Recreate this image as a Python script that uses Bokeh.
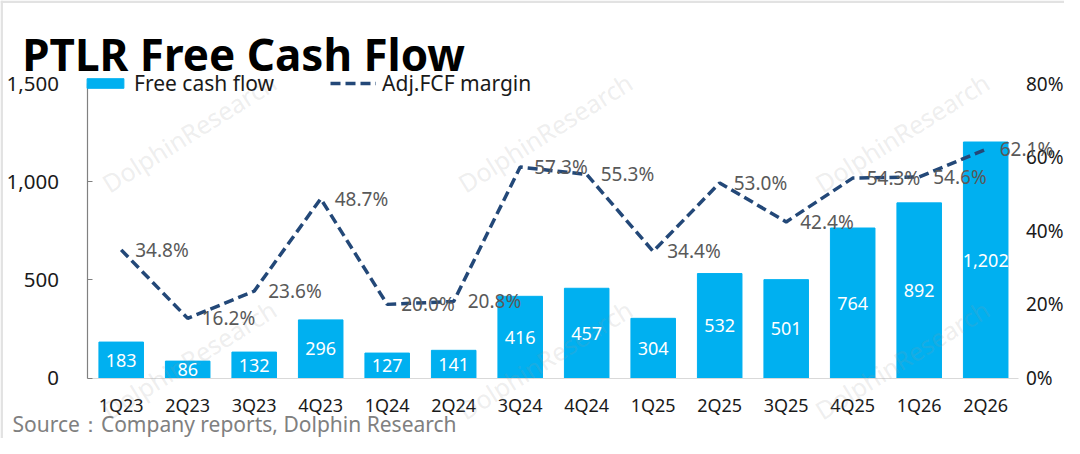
from bokeh.plotting import figure
from bokeh.models import (Range1d, LinearAxis, ColumnDataSource, LabelSet, Label, Span,
                          Legend, LegendItem, NumeralTickFormatter, FixedTicker, PrintfTickFormatter)
from bokeh.core.properties import value
from bokeh.embed import file_html
from bokeh.resources import INLINE

quarters = ["1Q23", "2Q23", "3Q23", "4Q23", "1Q24", "2Q24", "3Q24", "4Q24",
            "1Q25", "2Q25", "3Q25", "4Q25", "1Q26", "2Q26"]
fcf = [183, 86, 132, 296, 127, 141, 416, 457, 304, 532, 501, 764, 892, 1202]
margin = [34.8, 16.2, 23.6, 48.7, 20.0, 20.8, 57.3, 55.3, 34.4, 53.0, 42.4, 54.3, 54.6, 62.1]
left_ticks = [0, 500, 1000, 1500]
right_ticks = [0, 20, 40, 60, 80]

FONT = "Noto Sans"
BAR_COLOR = "#00B0F0"
LINE_COLOR = "#234878"

W, H = 1064, 438
# plot-area geometry (canvas px)
X0, SLOT = 120.7, 66.5          # centre of first category, category spacing
Y0, YTOP = 377.5, 83.0           # pixel of value 0 and of value 1500 / 80%
n = len(quarters)
idx = list(range(n))

ux = 1.0 / SLOT
x_start, x_end = -X0 * ux, (W - X0) * ux
upp = 1500.0 / (Y0 - YTOP)
y_start, y_end = -(H - Y0) * upp, Y0 * upp
pscale = 80.0 / 1500.0

src = ColumnDataSource(dict(
    i=idx, fcf=fcf, half=[v / 2 for v in fcf],
    fcf_lab=[f"{v:,}" for v in fcf],
    m=margin, m_lab=[f"{v:.1f}%" for v in margin],
))

p = figure(x_range=Range1d(x_start, x_end), y_range=Range1d(y_start, y_end),
           width=W, height=H, output_backend="svg", toolbar_location=None,
           min_border=0)
p.extra_y_ranges = {"pct": Range1d(y_start * pscale, y_end * pscale)}
p.outline_line_color = None
p.xgrid.grid_line_color = None
p.ygrid.grid_line_color = None
p.background_fill_color = "white"
p.border_fill_color = "white"

# light picture border (left and top edges)
p.add_layout(Span(location=x_start + 1.2 * ux, dimension="height",
                  line_color="#e2e2e2", line_width=2.5))
p.add_layout(Span(location=y_end - 1.2 * upp, dimension="width",
                  line_color="#e2e2e2", line_width=2.5))

# faint watermarks
for wx in (104, 460, 817):
    for wy in (185, 412):
        p.add_layout(Label(x=wx, y=H - wy, x_units="screen", y_units="screen",
                           text="DolphinResearch", angle=0.56, text_font=FONT,
                           text_font_size="25px", text_color="#9a9a9a", text_alpha=0.18,
                           text_baseline="alphabetic"))

bars = p.vbar(x="i", top="fcf", width=0.67, color=BAR_COLOR, source=src)
line = p.line(x="i", y="m", y_range_name="pct", line_color=LINE_COLOR, line_width=3.5,
              line_dash="10 5", source=src)

# left axis
ya = p.yaxis[0]
ya.fixed_location = -0.5
ya.bounds = (0, 1500)
ya.ticker = FixedTicker(ticks=left_ticks)
ya.formatter = NumeralTickFormatter(format="0,0")
ya.axis_line_color = "#808080"
ya.axis_line_width = 1.2
ya.major_tick_line_color = "#808080"
ya.major_tick_in = 5
ya.major_tick_out = 0
ya.minor_tick_line_color = None
ya.major_label_standoff = 29
ya.major_label_text_font = FONT
ya.major_label_text_font_size = "20.5px"
ya.major_label_text_color = "#1a1a1a"

# right axis
ra = LinearAxis(y_range_name="pct", ticker=FixedTicker(ticks=right_ticks),
                formatter=PrintfTickFormatter(format="%d%%"), fixed_location=n - 0.5,
                bounds=(0, 80))
ra.axis_line_color = None
ra.major_tick_line_color = None
ra.minor_tick_line_color = None
ra.major_tick_out = 0
ra.major_label_standoff = 7
ra.major_label_text_font = FONT
ra.major_label_text_font_size = "19px"
ra.major_label_text_color = "#1a1a1a"
p.add_layout(ra, "right")

# x axis
xa = p.xaxis[0]
xa.fixed_location = 0
xa.bounds = (-0.5, n - 0.5)
xa.ticker = FixedTicker(ticks=idx)
xa.major_label_overrides = {i: q for i, q in zip(idx, quarters)}
xa.axis_line_color = "#D9D9D9"
xa.axis_line_width = 1.2
xa.major_tick_line_color = None
xa.minor_tick_line_color = None
xa.major_tick_out = 0
xa.major_label_standoff = 15
xa.major_label_text_font = FONT
xa.major_label_text_font_size = "18px"
xa.major_label_text_color = "#1a1a1a"

# data labels
p.add_layout(LabelSet(x="i", y="half", text="fcf_lab", source=src, text_align="center",
                      text_baseline="middle", text_color="white", text_font=value(FONT),
                      text_font_size="18px"))
p.add_layout(LabelSet(x="i", y="m", text="m_lab", source=src, y_range_name="pct",
                      x_offset=14, text_align="left", text_baseline="middle",
                      text_color="#595959", text_font=value(FONT), text_font_size="19px"))

legend = Legend(items=[LegendItem(label="Free cash flow", renderers=[bars]),
                       LegendItem(label="Adj.FCF margin", renderers=[line])],
                orientation="horizontal", location=(82, 341), glyph_width=46, glyph_height=12,
                label_standoff=6, spacing=56, padding=0, margin=0,
                border_line_alpha=0, background_fill_alpha=0,
                label_text_font=FONT, label_text_font_size="21px", label_text_color="#1a1a1a")
p.add_layout(legend)

p.add_layout(Label(x=21.7, y=H - 53.5, x_units="screen", y_units="screen",
                   text="PTLR Free Cash Flow",
                   text_font=FONT, text_font_size="44px", text_font_style="bold",
                   text_baseline="middle", text_color="black"))
p.add_layout(Label(x=12, y=H - 423.5, x_units="screen", y_units="screen",
                   text="Source：Company reports, Dolphin Research",
                   text_font=FONT, text_font_size="21px", text_baseline="middle",
                   text_color="#808080"))

open("out.html", "w").write(file_html(p, INLINE))
